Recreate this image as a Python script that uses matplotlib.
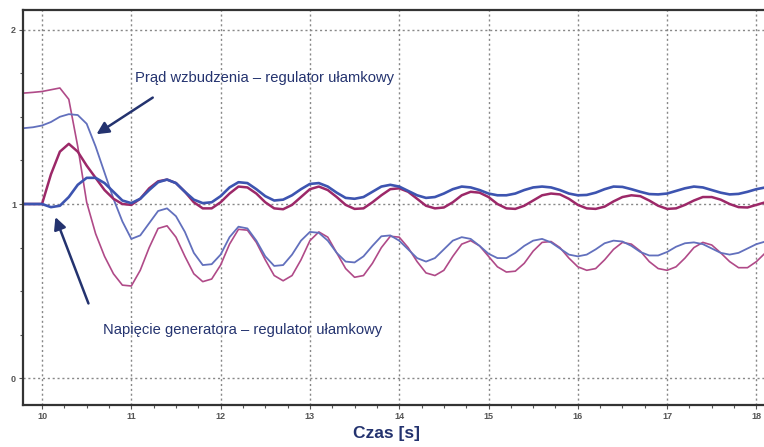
import numpy as np
import matplotlib as mpl
mpl.use('Agg')
import matplotlib.pyplot as plt
from matplotlib.ticker import MultipleLocator

# sampling grid of the read-off values (s)
czas = np.round(np.arange(9.8, 18.15, 0.1), 1)

# generator voltage, classic regulator (magenta)
napiecie_klas = [
    1.00, 1.00, 1.00, 1.17, 1.30, 1.345, 1.30, 1.22, 1.15, 1.08,
    1.03, 1.00, 0.995, 1.03, 1.09, 1.13, 1.14, 1.12, 1.07, 1.01,
    0.975, 0.975, 1.01, 1.06, 1.10, 1.095, 1.06, 1.01, 0.975, 0.97,
    0.995, 1.04, 1.085, 1.10, 1.08, 1.04, 0.995, 0.972, 0.975, 1.01,
    1.05, 1.085, 1.09, 1.07, 1.03, 0.99, 0.975, 0.98, 1.01, 1.05,
    1.07, 1.065, 1.04, 1.00, 0.975, 0.972, 0.99, 1.02, 1.05, 1.06,
    1.055, 1.03, 0.995, 0.975, 0.972, 0.985, 1.015, 1.04, 1.05, 1.045,
    1.02, 0.99, 0.972, 0.975, 0.995, 1.02, 1.04, 1.04, 1.025, 1.00,
    0.982, 0.98, 0.995, 1.01,
]

# generator voltage, fractional regulator (blue)
napiecie_ulam = [
    1.00, 1.00, 1.00, 0.982, 0.99, 1.04, 1.11, 1.15, 1.15, 1.12,
    1.07, 1.02, 1.005, 1.03, 1.08, 1.125, 1.14, 1.12, 1.07, 1.025,
    1.005, 1.01, 1.045, 1.095, 1.125, 1.12, 1.085, 1.045, 1.02, 1.025,
    1.05, 1.085, 1.115, 1.12, 1.10, 1.065, 1.035, 1.03, 1.04, 1.07,
    1.10, 1.11, 1.10, 1.075, 1.05, 1.035, 1.04, 1.06, 1.085, 1.10,
    1.095, 1.08, 1.06, 1.05, 1.05, 1.06, 1.08, 1.095, 1.10, 1.095,
    1.08, 1.06, 1.05, 1.052, 1.065, 1.085, 1.10, 1.098, 1.085, 1.07,
    1.057, 1.055, 1.06, 1.075, 1.09, 1.10, 1.095, 1.08, 1.065, 1.055,
    1.058, 1.07, 1.085, 1.095,
]

# field current, classic regulator (magenta)
prad_klas = [
    1.636, 1.64, 1.645, 1.655, 1.665, 1.60, 1.33, 1.01, 0.83, 0.70,
    0.60, 0.535, 0.53, 0.62, 0.75, 0.86, 0.875, 0.81, 0.70, 0.60,
    0.555, 0.57, 0.65, 0.77, 0.855, 0.85, 0.78, 0.68, 0.59, 0.56,
    0.59, 0.68, 0.79, 0.84, 0.81, 0.72, 0.63, 0.58, 0.59, 0.66,
    0.75, 0.815, 0.81, 0.75, 0.67, 0.605, 0.59, 0.62, 0.70, 0.77,
    0.79, 0.76, 0.70, 0.64, 0.61, 0.615, 0.66, 0.73, 0.78, 0.785,
    0.75, 0.69, 0.64, 0.62, 0.63, 0.68, 0.74, 0.78, 0.77, 0.73,
    0.67, 0.63, 0.62, 0.64, 0.69, 0.75, 0.78, 0.765, 0.72, 0.67,
    0.635, 0.635, 0.67, 0.72,
]

# field current, fractional regulator (blue)
prad_ulam = [
    1.435, 1.44, 1.45, 1.47, 1.50, 1.515, 1.51, 1.46, 1.33, 1.18,
    1.03, 0.90, 0.80, 0.82, 0.89, 0.96, 0.975, 0.93, 0.84, 0.72,
    0.65, 0.655, 0.71, 0.81, 0.87, 0.86, 0.79, 0.70, 0.645, 0.65,
    0.71, 0.79, 0.84, 0.835, 0.79, 0.72, 0.67, 0.665, 0.70, 0.76,
    0.815, 0.82, 0.79, 0.74, 0.69, 0.67, 0.69, 0.74, 0.79, 0.81,
    0.80, 0.76, 0.715, 0.69, 0.69, 0.72, 0.76, 0.79, 0.80, 0.78,
    0.745, 0.71, 0.70, 0.71, 0.74, 0.775, 0.79, 0.785, 0.76, 0.725,
    0.705, 0.705, 0.725, 0.755, 0.775, 0.78, 0.77, 0.745, 0.72, 0.71,
    0.72, 0.745, 0.77, 0.785,
]

navy = '#24336f'
plt.rcParams['font.family'] = ['Liberation Sans', 'DejaVu Sans']

fig = plt.figure(figsize=(7.64, 4.47), dpi=100)
ax = fig.add_axes([0.0301, 0.094, 0.9699, 0.8836])

kw = dict(solid_joinstyle='round', solid_capstyle='round')
ax.plot(czas, prad_klas, color='#b04a88', lw=1.2, **kw)
ax.plot(czas, prad_ulam, color='#6270bd', lw=1.3, **kw)
ax.plot(czas, napiecie_klas, color='#9c2868', lw=1.8, **kw)
ax.plot(czas, napiecie_ulam, color='#3d54b0', lw=1.9, **kw)

ax.set_xlim(9.787, 18.085)
ax.set_ylim(-0.152, 2.112)

ax.xaxis.set_major_locator(MultipleLocator(1))
ax.xaxis.set_minor_locator(MultipleLocator(0.25))
ax.yaxis.set_major_locator(MultipleLocator(1))
ax.yaxis.set_minor_locator(MultipleLocator(0.25))
ax.grid(True, which='major', color='#888888', linestyle=(0, (1.5, 2)), lw=1.0)

ax.tick_params(which='both', direction='out', colors='#555555', labelsize=6.5,
               length=3, width=0.8)
ax.tick_params(axis='x', pad=2)
ax.tick_params(axis='y', pad=2)
ax.tick_params(which='minor', length=2)
for lab in ax.get_xticklabels() + ax.get_yticklabels():
    lab.set_fontweight('bold')

for side in ['left', 'top', 'bottom']:
    ax.spines[side].set_color('#333333')
    ax.spines[side].set_linewidth(1.6)
ax.spines['right'].set_visible(False)

ax.set_xlabel('Czas [s]', fontsize=12.5, fontweight='bold', color=navy,
              labelpad=4, x=0.49)

ax.text(11.04, 1.72, 'Prąd wzbudzenia – regulator ułamkowy', fontsize=10.6,
        color=navy, ha='left', va='center')
ax.text(10.68, 0.278, 'Napięcie generatora – regulator ułamkowy', fontsize=10.6,
        color=navy, ha='left', va='center')

arrow = dict(arrowstyle='-|>', color=navy, lw=1.8, mutation_scale=18,
             shrinkA=0, shrinkB=0)
ax.annotate('', xy=(10.61, 1.40), xytext=(11.24, 1.61), arrowprops=arrow)
ax.annotate('', xy=(10.15, 0.925), xytext=(10.52, 0.43), arrowprops=arrow)

fig.savefig('out.png', dpi=100)
